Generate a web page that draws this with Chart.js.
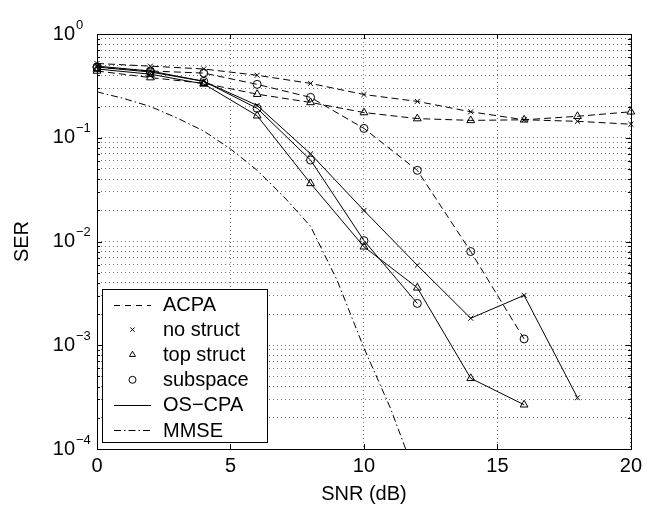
<!DOCTYPE html>
<html>
<head>
<meta charset="utf-8">
<script src="https://cdn.jsdelivr.net/npm/chart.js@4/dist/chart.umd.min.js"></script>
<style>
html,body{margin:0;padding:0;background:#fff}
</style>
</head>
<body>
<canvas id="c" width="647" height="510"></canvas>
<script>
// SNR grid used by the simulated curves
snr = [0, 2, 4, 6, 8, 10, 12, 14, 16, 18, 20]
// ACPA (dashed)
acpaNoStruct  = [0.52, 0.49, 0.46, 0.40, 0.334, 0.261, 0.224, 0.178, 0.149, 0.144, 0.135]
acpaTopStruct = [0.44, 0.38, 0.335, 0.263, 0.219, 0.175, 0.153, 0.147, 0.149, 0.161, 0.178]
acpaSubspace  = [0.48, 0.44, 0.42, 0.327, 0.245, 0.123, 0.0485, 0.0080, 0.00115]
// OS-CPA (solid)
oscpaNoStruct  = [0.49, 0.44, 0.35, 0.205, 0.070, 0.0199, 0.0059, 0.00182, 0.00303, 0.000312]
oscpaTopStruct = [0.46, 0.41, 0.33, 0.163, 0.0363, 0.0089, 0.00358, 0.00048, 0.000267]
oscpaSubspace  = [0.48, 0.43, 0.35, 0.192, 0.061, 0.0102, 0.00253]
// MMSE bound (dash-dot)
mmseSnr = [0, 1, 2, 3, 4, 5, 6, 7, 8, 9, 10, 11, 12]
mmse    = [0.277, 0.239, 0.20, 0.155, 0.116, 0.078, 0.0485, 0.027, 0.0140, 0.0042, 0.00094, 0.000245, 0.00005]
// axes
xTicks = [0, 5, 10, 15, 20]
yDecades = [-4, -3, -2, -1, 0]
legendLabels = ['ACPA', 'no struct', 'top struct', 'subspace', 'OS\u2212CPA', 'MMSE']

yTickValues = []
yDecades.forEach(function(e){
  if (e == 0) { yTickValues.push(1); return }
  for (var m = 1; m < 10; m++) yTickValues.push(m * Math.pow(10, e))
})

function pts(xs, ys){
  return ys.map(function(y, i){ return {x: xs[i], y: y} })
}
function isDecade(v){
  var l = Math.log10(v)
  return Math.abs(l - Math.round(l)) < 1e-9
}

FONT = '"Liberation Sans", Arial, Helvetica, sans-serif'
DASH = [7, 4]
DASHDOT = [7, 3, 1.5, 3]

function series(data, dash, style, radius){
  return {
    data: data,
    borderColor: '#000',
    borderWidth: 1,
    borderDash: dash,
    pointStyle: style || 'circle',
    pointRadius: radius || 0,
    pointBorderColor: '#000',
    pointBackgroundColor: 'rgba(0,0,0,0)',
    pointBorderWidth: 1,
    fill: false,
    tension: 0,
    clip: radius ? false : undefined
  }
}

const frame = {
  id: 'frame',
  afterDraw(chart){
    const ctx = chart.ctx
    const a = chart.chartArea
    const xs = chart.scales.x, ys = chart.scales.y
    ctx.save()
    ctx.strokeStyle = '#000'
    ctx.lineWidth = 1
    ctx.setLineDash([])
    // box
    ctx.strokeRect(Math.round(a.left) + 0.5, Math.round(a.top) + 0.5,
      Math.round(a.right - a.left), Math.round(a.bottom - a.top))
    // inward tick marks
    ctx.beginPath()
    xTicks.forEach(function(v){
      const px = Math.round(xs.getPixelForValue(v)) + 0.5
      ctx.moveTo(px, a.bottom); ctx.lineTo(px, a.bottom - 5)
      ctx.moveTo(px, a.top); ctx.lineTo(px, a.top + 5)
    })
    yTickValues.forEach(function(v){
      const py = Math.round(ys.getPixelForValue(v)) + 0.5
      const len = isDecade(v) ? 5 : 3
      ctx.moveTo(a.left, py); ctx.lineTo(a.left + len, py)
      ctx.moveTo(a.right, py); ctx.lineTo(a.right - len, py)
    })
    ctx.stroke()
    // exponents of the 10^n tick labels
    ctx.fillStyle = '#000'
    ctx.font = '13px ' + FONT
    ctx.textAlign = 'left'
    ctx.textBaseline = 'middle'
    yDecades.forEach(function(e){
      const py = ys.getPixelForValue(Math.pow(10, e))
      ctx.fillText(e < 0 ? '\u2212' + (-e) : String(e), 76, py - 9)
    })
    // legend
    const lx = 102.5, ly = 289.5, lw = 165, lh = 153
    ctx.fillStyle = '#fff'
    ctx.fillRect(lx, ly, lw, lh)
    ctx.strokeRect(lx, ly, lw, lh)
    const rowH = 25.1, y0 = 304.5
    ctx.font = '20px ' + FONT
    legendLabels.forEach(function(t, i){
      const y = y0 + i * rowH
      ctx.strokeStyle = '#000'
      ctx.lineWidth = 1
      if (i == 0 || i == 4 || i == 5) {
        ctx.setLineDash(i == 0 ? [6, 5] : i == 5 ? DASHDOT : [])
        ctx.beginPath(); ctx.moveTo(114, Math.round(y) + 0.5); ctx.lineTo(151, Math.round(y) + 0.5); ctx.stroke()
        ctx.setLineDash([])
      } else {
        const st = i == 1 ? 'crossRot' : i == 2 ? 'triangle' : 'circle'
        ctx.fillStyle = 'rgba(0,0,0,0)'
        Chart.helpers.drawPoint(ctx, {pointStyle: st, radius: i == 1 ? 3 : 3.5, rotation: 0, borderWidth: 1}, 132.5, y)
      }
      ctx.fillStyle = '#000'
      ctx.fillText(t, 163, y + 1)
    })
    ctx.restore()
  }
}

new Chart(document.getElementById('c'), {
  type: 'line',
  data: {
    datasets: [
      series(pts(snr, acpaNoStruct), DASH, 'crossRot', 3.5),
      series(pts(snr, acpaTopStruct), DASH, 'triangle', 4.5),
      series(pts(snr, acpaSubspace), DASH, 'circle', 4),
      series(pts(snr, oscpaNoStruct), [], 'crossRot', 3.5),
      series(pts(snr, oscpaTopStruct), [], 'triangle', 4.5),
      series(pts(snr, oscpaSubspace), [], 'circle', 4),
      series(pts(mmseSnr, mmse), DASHDOT)
    ]
  },
  options: {
    responsive: false,
    animation: false,
    events: [],
    layout: {padding: {left: 0, right: 14, top: 26, bottom: 0}},
    plugins: {legend: {display: false}, tooltip: {enabled: false}},
    scales: {
      x: {
        type: 'linear', min: 0, max: 20,
        afterBuildTicks: function(s){ s.ticks = xTicks.map(function(v){ return {value: v} }) },
        afterFit: function(s){ s.height = 61 },
        grid: {color: 'rgba(0,0,0,0.55)', lineWidth: 1, drawTicks: false},
        border: {display: false, dash: [1, 3]},
        ticks: {color: '#000', font: {family: FONT, size: 20}, padding: 5, maxRotation: 0},
        title: {display: true, text: 'SNR (dB)', color: '#000', font: {family: FONT, size: 20}, padding: {top: 0, bottom: 4}}
      },
      y: {
        type: 'logarithmic', min: 1e-4, max: 1,
        afterBuildTicks: function(s){ s.ticks = yTickValues.map(function(v){ return {value: v, major: isDecade(v)} }) },
        afterFit: function(s){ s.width = 97 },
        grid: {color: 'rgba(0,0,0,0.55)', lineWidth: 1, drawTicks: false},
        border: {display: false, dash: [1, 3]},
        ticks: {
          color: '#000', font: {family: FONT, size: 20}, padding: 22, autoSkip: false,
          callback: function(v){ return isDecade(v) ? '10' : '' }
        },
        title: {display: true, text: 'SER', color: '#000', font: {family: FONT, size: 20}, padding: {top: 10, bottom: 0}}
      }
    }
  },
  plugins: [frame]
})
</script>
</body>
</html>
